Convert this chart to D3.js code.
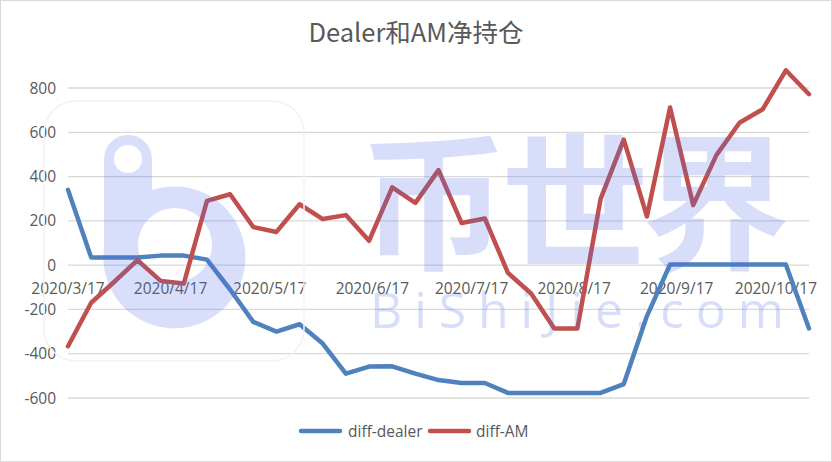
<!DOCTYPE html>
<html><head><meta charset="utf-8">
<script src="https://cdn.jsdelivr.net/npm/d3@7"></script>
<style>html,body{margin:0;padding:0;background:#fff;}svg{display:block;}</style>
</head><body>
<script>
const dates = ["2020-03-17","2020-03-24","2020-03-31","2020-04-07","2020-04-14","2020-04-21","2020-04-28","2020-05-05","2020-05-12","2020-05-19","2020-05-26","2020-06-02","2020-06-09","2020-06-16","2020-06-23","2020-06-30","2020-07-07","2020-07-14","2020-07-21","2020-07-28","2020-08-04","2020-08-11","2020-08-18","2020-08-25","2020-09-01","2020-09-08","2020-09-15","2020-09-22","2020-09-29","2020-10-06","2020-10-13","2020-10-20","2020-10-27"];
const diffDealer = [340,35,35,35,43,43,25,-110,-256,-300,-267,-354,-490,-458,-457,-490,-519,-532,-532,-577,-577,-577,-577,-577,-537,-230,3,3,3,3,3,3,-286];
const diffAM = [-366,-170,-75,23,-71,-83,290,320,172,150,275,208,226,110,351,281,429,190,211,-35,-128,-286,-286,299,567,220,712,271,497,643,704,880,772];
const yTicks = [800,600,400,200,0,-200,-400,-600];
const xTickDates = ["2020-03-17","2020-04-17","2020-05-17","2020-06-17","2020-07-17","2020-08-17","2020-09-17","2020-10-17"];
const seriesNames = ["diff-dealer","diff-AM"];
const colors = ["#4F81BD","#C0504D"];
const title = "Dealer和AM净持仓";

const W = 832, H = 462;
const parse = d3.utcParse("%Y-%m-%d");
const svg = d3.select("body").append("svg").attr("width", W).attr("height", H);
svg.append("rect").attr("x",0.5).attr("y",0.5).attr("width",W-1).attr("height",H-1).attr("fill","#fff").attr("stroke","#d9d9d9");

const x = d3.scaleUtc().domain([parse(dates[0]), parse(dates[dates.length-1])]).range([68, 809]);
const y = d3.scaleLinear().domain([-600, 800]).range([398, 88]);
const font = "'Open Sans','Noto Sans CJK SC',sans-serif";

// gridlines
svg.append("g").selectAll("line").data(yTicks).join("line")
  .attr("x1", 68).attr("x2", 809).attr("y1", d=>y(d)).attr("y2", d=>y(d))
  .attr("stroke", "#d9d9d9").attr("stroke-width", 1.3);

// y labels
svg.append("g").selectAll("text").data(yTicks).join("text")
  .attr("x", 56).attr("y", d=>y(d)).attr("dy","0.36em").attr("text-anchor","end")
  .attr("font-family", font).attr("font-size", 15.5).attr("fill","#595959").text(d=>d);

// x labels
const fmt = d => `${d.getUTCFullYear()}/${d.getUTCMonth()+1}/${d.getUTCDate()}`;
svg.append("g").selectAll("text").data(xTickDates.map(parse)).join("text")
  .attr("x", d=>x(d)).attr("y", 294).attr("text-anchor","middle")
  .attr("font-family", font).attr("font-size", 15.5).attr("fill","#595959").text(fmt);

// lines
const pts = dates.map(parse);
[diffDealer, diffAM].forEach((vals, i) => {
  const line = d3.line().x((d,j)=>x(pts[j])).y(d=>y(d));
  svg.append("path").attr("d", line(vals)).attr("fill","none")
    .attr("stroke", colors[i]).attr("stroke-width", 4.5)
    .attr("stroke-linejoin","round").attr("stroke-linecap","round");
});

// title
svg.append("text").attr("x", 416).attr("y", 42).attr("text-anchor","middle")
  .attr("font-family", "'Noto Sans CJK SC','Open Sans',sans-serif").attr("font-size", 25.5).attr("fill","#595959").text(title);

// legend
const lg = svg.append("g");
const legendItems = [{x:299, tx:348}, {x:428, tx:476}];
seriesNames.forEach((n,i)=>{
  lg.append("line").attr("x1", legendItems[i].x+2).attr("x2", legendItems[i].x+41).attr("y1",431).attr("y2",431)
    .attr("stroke", colors[i]).attr("stroke-width",4.5).attr("stroke-linecap","round");
  lg.append("text").attr("x", legendItems[i].tx).attr("y", 431).attr("dy","0.36em")
    .attr("font-family", font).attr("font-size", 15.5).attr("fill","#595959").text(n);
});

// watermark
const wm = svg.append("g").attr("pointer-events","none");
wm.append("rect").attr("x",44).attr("y",101).attr("width",260).attr("height",260).attr("rx",32)
  .attr("fill","none").attr("stroke","#f2f2f2").attr("stroke-width",1.5);
const wg = wm.append("g").attr("fill","rgb(80,110,235)").attr("opacity",0.22);
// b logo
wg.append("path").attr("fill-rule","evenodd").attr("d",
  "M104,159 A24,24 0 0 1 152,159 L152,190 A71,71 0 1 1 104,248 Z " +
  "M128,145 A14,14 0 1 0 128,173 A14,14 0 1 0 128,145 Z " +
  "M175,208 A37,37 0 1 0 175,282 A37,37 0 1 0 175,208 Z");
wg.append("text").attr("x", 360).attr("y", 258).attr("font-family","'Noto Sans CJK SC',sans-serif")
  .attr("font-weight",700).attr("font-size",148).attr("textLength",430).attr("lengthAdjust","spacing").text("币世界");
wg.append("text").attr("x", 370).attr("y", 328).attr("font-family","'Open Sans',sans-serif")
  .attr("font-size",50).attr("textLength",414).attr("lengthAdjust","spacing").text("BiShiJie.com");
</script>
</body></html>
